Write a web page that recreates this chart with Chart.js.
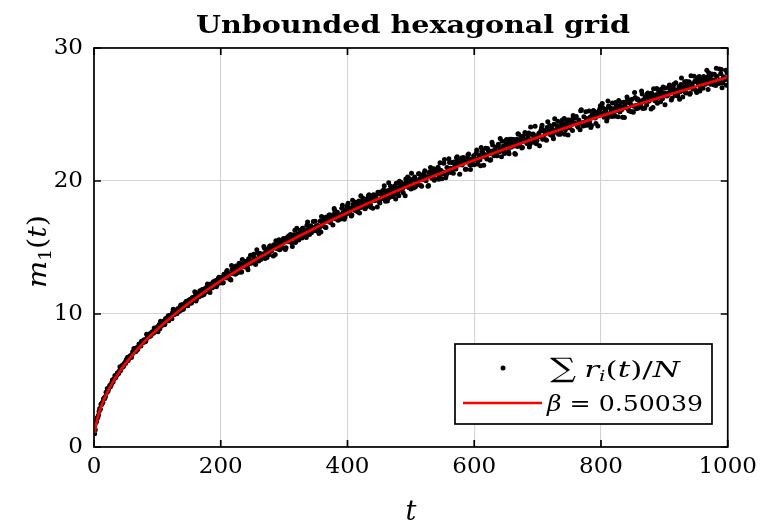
<!DOCTYPE html>
<html><head><meta charset="utf-8">
<script src="https://cdn.jsdelivr.net/npm/chart.js@4.4.1/dist/chart.umd.min.js"></script>
<style>html,body{margin:0;padding:0;background:#fff;} #wrap{width:763px;height:524px;position:relative;}</style>
</head><body><div id="wrap"><canvas id="c" width="763" height="524"></canvas></div>
<script>
const titleText = 'Unbounded hexagonal grid';
const xTicks = [0, 200, 400, 600, 800, 1000];
const yTicks = [0, 10, 20, 30];
const fitLabel = '0.50039';

// even time steps: t = 2, 4, ..., 1000
const tStartEven = 2, tStep = 2;
const meanREven = [
 1.30,1.92,2.21,2.66,2.84,3.20,3.35,3.68,3.80,4.10,4.19,4.47,4.55,4.83,4.88,5.15,5.20,5.44,5.48,5.73,5.76,6.02,6.03,6.27,6.30,
 6.52,6.50,6.78,6.86,6.95,7.08,7.22,7.18,7.29,7.52,7.61,7.60,7.85,7.95,7.92,8.01,8.26,8.34,8.30,8.38,8.66,8.58,8.69,8.93,9.02,
 9.12,8.90,9.31,9.20,9.48,9.25,9.62,9.71,9.49,9.90,9.68,10.12,9.95,10.25,10.02,10.40,10.18,10.55,10.31,10.72,10.50,10.80,10.95,10.62,11.05,
 11.10,10.85,11.25,11.02,11.38,11.15,11.55,11.30,11.68,11.40,11.85,11.52,11.96,11.70,12.10,11.80,12.25,11.95,12.38,12.05,12.52,12.18,12.65,12.33,12.72,
 12.69,12.36,12.95,12.73,13.27,12.74,13.00,12.55,13.34,13.26,13.13,13.61,13.08,13.56,13.42,13.14,14.09,13.68,13.54,13.93,13.51,14.16,13.79,13.96,14.40,
 14.49,14.12,14.06,14.56,13.99,14.55,14.25,14.51,15.08,14.17,14.58,14.85,14.45,15.13,14.74,15.00,15.20,14.47,15.06,14.91,15.59,15.13,15.48,14.96,15.43,
 14.85,15.73,15.62,15.44,15.97,15.35,15.88,15.71,15.37,16.45,15.95,15.78,16.21,15.72,16.44,16.00,16.18,16.68,16.38,15.98,16.63,16.36,16.95,16.33,16.59,
 16.24,16.59,16.50,16.17,16.94,17.25,17.09,16.50,17.05,17.27,17.44,17.12,17.26,17.48,17.76,17.33,17.65,17.29,17.12,17.45,18.17,17.40,17.27,17.52,18.18,
 17.96,17.75,17.36,18.56,17.99,17.78,18.26,17.69,18.49,17.99,18.18,18.72,18.37,17.91,18.64,18.32,18.97,18.26,18.56,17.95,18.92,18.78,18.57,19.16,18.45,
 19.08,18.66,18.97,19.65,18.48,18.97,19.29,18.76,19.60,19.07,19.37,19.60,18.65,19.38,19.15,19.99,19.38,19.80,19.12,19.69,20.15,19.66,19.55,20.16,19.40,
 20.09,19.48,20.31,19.78,19.97,20.54,20.16,19.67,20.43,20.09,20.78,20.01,20.32,19.67,20.70,20.55,20.33,20.93,20.17,20.78,20.55,20.13,21.38,20.78,20.55,
 21.34,20.65,20.45,20.69,21.68,20.92,20.64,20.92,21.43,21.15,21.75,21.50,21.34,21.26,21.73,21.61,21.45,20.88,21.68,21.96,21.67,20.87,21.62,21.54,21.22,
 21.61,22.33,21.52,21.84,21.15,22.23,22.07,21.82,22.46,21.65,22.29,22.04,21.60,22.91,22.27,22.02,22.54,21.89,22.77,22.20,22.40,22.99,22.59,22.06,22.86,
 22.82,22.22,23.14,22.54,22.88,23.12,22.07,22.85,22.59,23.51,22.83,23.29,22.52,23.14,23.64,23.08,22.94,23.61,22.76,23.51,23.04,23.36,24.12,22.80,23.34,
 23.59,23.32,23.98,23.14,23.80,23.54,23.06,24.45,23.76,23.50,24.04,23.36,24.27,23.67,23.88,24.50,24.07,23.51,24.35,23.96,24.70,23.85,24.18,23.46,24.58,
 24.36,24.60,24.93,24.37,24.74,24.26,24.04,24.42,25.29,24.31,24.13,24.41,25.20,24.19,24.60,24.46,24.03,24.94,25.30,25.08,24.32,24.98,25.22,25.42,24.99,
 25.82,25.13,24.87,25.40,24.72,25.64,25.04,25.24,25.86,25.43,24.87,25.70,25.31,26.05,25.20,25.52,24.80,25.92,25.74,25.48,26.14,25.29,25.95,25.69,25.21,
 25.62,26.28,25.43,26.17,25.70,26.02,26.77,25.45,25.99,26.31,25.71,26.62,26.02,26.35,26.59,25.52,26.30,26.04,26.95,26.27,26.72,25.95,26.57,27.06,26.50,
 26.99,26.39,26.59,27.21,26.78,26.22,27.04,26.65,27.39,26.54,26.86,26.14,27.26,27.08,26.81,27.47,26.61,27.27,27.01,26.53,27.91,27.22,26.96,27.49,26.80,
 27.75,27.53,26.76,27.42,27.66,27.85,27.42,27.58,27.82,28.14,27.58,27.94,27.46,27.24,27.61,28.48,27.49,27.34,27.59,28.38,27.36,27.76,27.62,27.19,28.10
];

// odd time steps: t = 1, 3, ..., 999
const tStartOdd = 1;
const meanROdd = [
 1.00,1.85,2.19,2.39,2.89,3.22,3.34,3.61,3.64,4.11,4.39,4.36,4.64,4.65,5.03,5.09,5.37,5.34,5.58,5.55,6.03,5.93,6.16,6.13,6.37,
 6.57,6.75,6.70,6.85,6.72,7.17,7.40,7.22,7.46,7.35,7.74,7.71,7.96,7.83,8.06,7.92,8.48,8.26,8.49,8.37,8.60,8.58,8.94,8.89,8.77,
 8.66,9.21,9.46,9.14,9.41,9.20,9.67,9.57,9.87,9.62,9.88,9.64,10.35,10.00,10.25,10.04,10.32,10.23,10.68,10.56,10.35,10.76,10.92,10.77,10.89,
 10.97,10.80,11.22,11.07,11.67,10.97,11.44,11.29,11.75,11.55,11.84,11.45,11.86,11.71,12.26,12.12,11.62,12.10,12.10,12.45,12.40,12.05,12.46,12.77,12.36,
 12.72,12.33,12.98,12.76,13.16,12.71,13.05,12.61,13.65,13.04,13.38,12.99,13.36,13.17,13.81,13.56,13.17,13.76,13.96,13.65,13.79,13.32,14.10,14.41,13.84,
 13.86,14.21,13.73,14.83,14.17,14.52,14.10,14.48,14.27,14.95,14.67,14.25,14.87,15.07,14.74,14.88,14.36,15.19,15.51,14.91,15.26,14.83,15.51,15.26,15.67,
 15.45,14.99,15.65,15.86,15.49,15.64,15.08,15.96,16.30,15.65,16.02,15.56,16.28,16.01,16.44,15.91,16.28,15.75,16.92,16.20,16.56,16.10,16.50,16.26,16.98,
 16.51,16.66,16.05,16.99,17.34,16.64,17.03,16.53,17.29,17.00,17.44,16.88,17.26,16.70,17.93,17.16,17.54,17.05,17.46,17.21,17.96,17.64,17.13,17.83,18.04,
 18.32,17.57,17.97,17.45,18.24,17.92,18.41,17.80,18.20,17.59,18.90,18.08,18.48,17.95,18.39,18.10,18.90,18.55,18.02,18.74,18.96,18.53,18.68,18.05,19.02,
 18.35,19.19,18.85,19.35,18.70,19.12,18.49,19.86,18.99,19.41,18.84,19.30,19.00,19.83,19.46,18.89,19.65,19.88,19.43,19.58,18.90,19.93,20.31,19.51,19.93,
 20.58,19.71,20.12,19.55,20.01,19.71,20.54,20.17,19.60,20.36,20.59,20.13,20.28,19.60,20.63,21.01,20.21,20.62,20.05,20.89,20.55,21.04,20.39,20.81,20.17,
 20.62,21.61,20.25,21.01,20.64,21.40,20.96,21.40,20.59,21.27,20.91,21.82,21.50,20.50,21.29,21.21,21.77,21.60,20.88,21.56,22.03,21.23,21.62,21.22,21.90,
 21.65,22.09,21.28,21.96,21.59,22.51,22.19,21.18,21.98,21.89,22.45,22.28,21.56,22.23,22.71,21.90,22.30,21.89,22.57,22.20,23.20,21.83,22.59,22.22,22.98,
 23.12,22.68,22.05,22.88,23.13,22.61,22.78,22.01,23.13,23.55,22.66,23.12,22.48,23.39,23.01,23.54,22.82,23.28,22.55,24.06,23.08,23.53,22.90,23.39,23.04,
 23.42,22.65,23.77,24.19,23.30,23.75,23.11,24.03,23.64,24.17,23.46,23.91,23.18,24.68,23.71,24.16,23.52,24.01,23.67,24.59,24.15,23.51,24.35,24.59,24.07,
 23.98,24.43,23.80,24.71,24.32,24.85,24.13,24.59,23.86,25.36,24.38,24.83,24.19,24.69,24.34,25.26,24.82,24.18,25.01,25.25,24.74,24.90,24.13,25.25,25.66,
 24.98,25.51,24.79,25.24,24.51,26.02,25.04,25.49,24.85,25.34,24.99,25.91,25.47,24.83,25.66,25.90,25.38,25.54,24.77,25.90,26.31,25.42,25.87,25.23,26.14,
 25.16,26.66,25.68,26.13,25.49,25.98,25.63,26.55,26.11,25.47,26.30,26.54,26.02,26.18,25.41,26.52,26.93,26.04,26.49,25.85,26.76,26.37,26.90,26.18,26.63,
 25.73,26.56,26.46,27.04,26.86,26.09,26.78,27.28,26.42,26.83,26.40,27.10,26.71,27.75,26.31,27.10,26.70,27.48,27.01,27.46,26.61,27.31,26.92,27.87,27.51,
 26.66,27.36,27.86,27.00,27.41,26.97,27.67,27.28,28.32,26.88,27.67,27.27,28.05,27.58,28.03,27.18,27.87,27.48,28.43,28.08,27.02,27.84,27.74,28.32,28.14
];

// fitted curve
const fitT = [1, 3, 6, 10, 15, 20, 30, 40, 50, 65, 80, 100, 125, 150, 175, 200, 250, 300, 350, 400, 450, 500, 550, 600, 650, 700, 750, 800, 850, 900, 950, 1000];
const fitM = [1.05, 1.62, 2.25, 2.87, 3.49, 4.02, 4.90, 5.64, 6.29, 7.16, 7.94, 8.86, 9.89, 10.83, 11.69, 12.49, 13.95, 15.27, 16.49, 17.62, 18.68, 19.69, 20.64, 21.56, 22.43, 23.28, 24.09, 24.88, 25.64, 26.38, 27.10, 27.80];

const SERIF = '"DejaVu Serif", "Liberation Serif", serif';
const dots = [];
meanROdd.forEach((v, i) => dots.push({x: tStartOdd + i * tStep, y: v}));
meanREven.forEach((v, i) => dots.push({x: tStartEven + i * tStep, y: v}));
dots.sort((p, q) => p.x - q.x);
const fit = fitT.map((t, i) => ({x: t, y: fitM[i]}));

function drawRuns(ctx, runs, x, y, targetW) {
  let w = 0;
  for (const r of runs) { ctx.font = r.f; w += ctx.measureText(r.t).width + (r.gap || 0); }
  const sx = targetW ? targetW / w : 1;
  ctx.save();
  ctx.translate(x, y);
  ctx.scale(sx, 1);
  ctx.textAlign = 'left';
  ctx.textBaseline = 'alphabetic';
  ctx.fillStyle = '#000';
  let cx = 0;
  for (const r of runs) {
    ctx.font = r.f;
    ctx.fillText(r.t, cx, r.dy || 0);
    cx += ctx.measureText(r.t).width + (r.gap || 0);
  }
  ctx.restore();
  return w * sx;
}

const decor = {
  id: 'decor',
  afterDraw(chart) {
    const ctx = chart.ctx;
    const a = chart.chartArea;
    const xs = chart.scales.x, ys = chart.scales.y;
    ctx.save();
    // axes box
    ctx.strokeStyle = '#000';
    ctx.lineWidth = 1.7;
    ctx.strokeRect(a.left, a.top, a.right - a.left, a.bottom - a.top);
    // inward ticks
    const tl = 7;
    ctx.beginPath();
    for (const v of xTicks) {
      const px = xs.getPixelForValue(v);
      ctx.moveTo(px, a.bottom); ctx.lineTo(px, a.bottom - tl);
      ctx.moveTo(px, a.top); ctx.lineTo(px, a.top + tl);
    }
    for (const v of yTicks) {
      const py = ys.getPixelForValue(v);
      ctx.moveTo(a.left, py); ctx.lineTo(a.left + tl, py);
      ctx.moveTo(a.right, py); ctx.lineTo(a.right - tl, py);
    }
    ctx.stroke();

    // title
    drawRuns(ctx, [{t: titleText, f: 'bold 24px ' + SERIF}], 196, 33, 434);

    // x axis title
    ctx.save();
    ctx.font = 'italic 27px ' + SERIF;
    ctx.textAlign = 'center';
    ctx.fillStyle = '#000';
    ctx.fillText('t', (a.left + a.right) / 2, 520);
    ctx.restore();

    // y axis title
    ctx.save();
    ctx.translate(46, 288);
    ctx.rotate(-Math.PI / 2);
    drawRuns(ctx, [
      {t: 'm', f: 'italic 26px ' + SERIF},
      {t: '1', f: '17px ' + SERIF, dy: 5},
      {t: '(', f: '26px ' + SERIF},
      {t: 't', f: 'italic 26px ' + SERIF},
      {t: ')', f: '26px ' + SERIF}
    ], 0, 0, 73);
    ctx.restore();

    // legend box
    const bx = 455, by = 344, bw = 257, bh = 80;
    ctx.fillStyle = '#fff';
    ctx.fillRect(bx, by, bw, bh);
    ctx.strokeStyle = '#000';
    ctx.lineWidth = 1.7;
    ctx.strokeRect(bx, by, bw, bh);
    // entry 1: dot
    ctx.fillStyle = '#000';
    ctx.beginPath();
    ctx.arc(503, 368, 2.5, 0, Math.PI * 2);
    ctx.fill();
    drawRuns(ctx, [
      {t: '\u2211', f: '27px ' + SERIF, gap: 6},
      {t: 'r', f: 'italic 23px ' + SERIF},
      {t: 'i', f: 'italic 15px ' + SERIF, dy: 4},
      {t: '(', f: '23px ' + SERIF},
      {t: 't', f: 'italic 23px ' + SERIF},
      {t: ')/', f: '23px ' + SERIF},
      {t: 'N', f: 'italic 23px ' + SERIF}
    ], 550, 377, 130);
    // entry 2: red line
    ctx.strokeStyle = '#ff0000';
    ctx.lineWidth = 2.5;
    ctx.beginPath();
    ctx.moveTo(463, 403); ctx.lineTo(542, 403);
    ctx.stroke();
    drawRuns(ctx, [
      {t: '\u03B2', f: 'italic 23px ' + SERIF},
      {t: ' = ', f: '23px ' + SERIF},
      {t: fitLabel, f: '23px ' + SERIF}
    ], 547, 411, 156);
    ctx.restore();
  }
};

new Chart(document.getElementById('c').getContext('2d'), {
  type: 'scatter',
  data: {
    datasets: [
      {label: 'sum r_i(t)/N', data: dots, showLine: false, pointRadius: 2.5, pointHoverRadius: 2.5,
       pointBorderWidth: 0, backgroundColor: '#000', borderColor: '#000', order: 2},
      {label: 'beta = ' + fitLabel, data: fit, showLine: true, pointRadius: 0, borderColor: '#ff0000',
       backgroundColor: '#ff0000', borderWidth: 2.7, cubicInterpolationMode: 'monotone', order: 1}
    ]
  },
  options: {
    responsive: false,
    animation: false,
    events: [],
    layout: {padding: {left: 0, right: 30, top: 48, bottom: 0}},
    plugins: {legend: {display: false}, title: {display: false}, tooltip: {enabled: false}},
    scales: {
      x: {
        type: 'linear', min: 0, max: 1000,
        afterBuildTicks: s => { s.ticks = xTicks.map(v => ({value: v})); },
        grid: {color: '#d4d4d4', lineWidth: 1.1, drawTicks: false},
        border: {display: false},
        ticks: {padding: 6, color: '#000', maxRotation: 0, font: {family: SERIF, size: 23},
                callback: v => String(v)},
        afterFit: s => { s.height = 77; }
      },
      y: {
        type: 'linear', min: 0, max: 30,
        afterBuildTicks: s => { s.ticks = yTicks.map(v => ({value: v})); },
        grid: {color: '#d4d4d4', lineWidth: 1.1, drawTicks: false},
        border: {display: false},
        ticks: {padding: 11, color: '#000', font: {family: SERIF, size: 23},
                callback: v => String(v)},
        afterFit: s => { s.width = 94; }
      }
    }
  },
  plugins: [decor]
});
</script>
</body></html>
